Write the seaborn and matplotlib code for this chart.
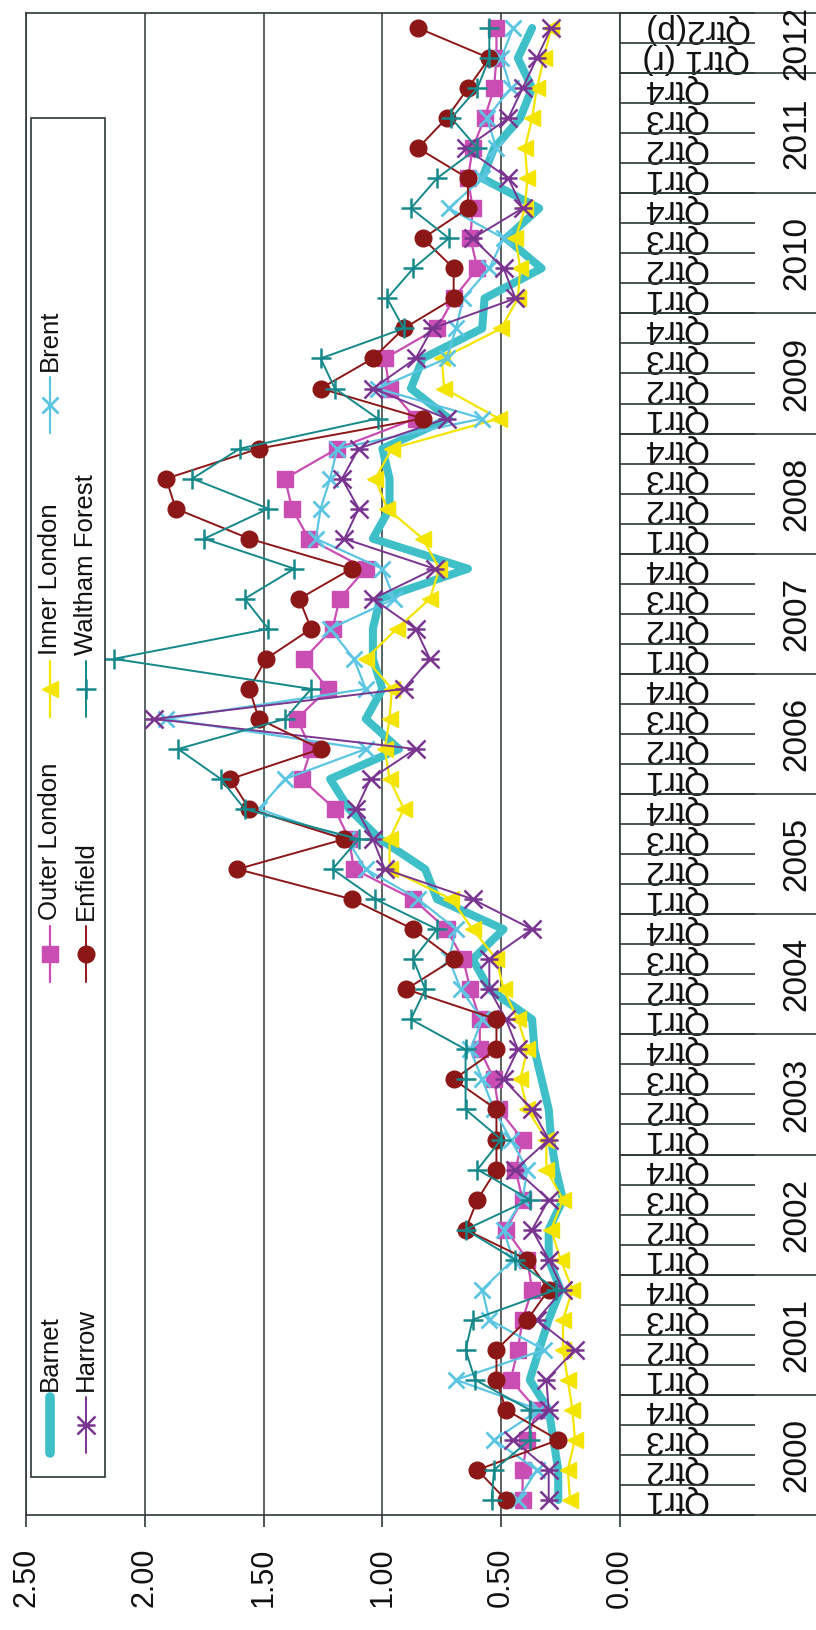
import numpy as np
import matplotlib
matplotlib.use("Agg")
import matplotlib.pyplot as plt
from matplotlib.lines import Line2D
from matplotlib.patches import Rectangle
from matplotlib.path import Path
import seaborn as sns

# ---------------------------------------------------------------- data
years = [str(y) for y in range(2000, 2013)]
quarter_labels = ["Qtr1", "Qtr2", "Qtr3", "Qtr4"] * 12 + ["Qtr1 (r)", "Qtr2(p)"]
value_ticks = [0.0, 0.5, 1.0, 1.5, 2.0, 2.5]

barnet = [0.26, 0.26, 0.28, 0.30, 0.38, 0.34, 0.30, 0.25, 0.30, 0.30,
          0.24, 0.27, 0.29, 0.30, 0.33, 0.36, 0.37, 0.55, 0.62, 0.49,
          0.77, 0.82, 1.01, 1.14, 1.22, 0.93, 1.07, 1.00, 1.04, 1.04,
          1.01, 0.64, 1.04, 0.97, 0.97, 1.00, 0.72, 0.88, 0.83, 0.58,
          0.57, 0.33, 0.48, 0.34, 0.58, 0.53, 0.42, 0.37, 0.43, 0.37]
outer_london = [0.41, 0.41, 0.39, 0.35, 0.46, 0.43, 0.41, 0.37, 0.39, 0.48,
                0.41, 0.44, 0.41, 0.51, 0.53, 0.59, 0.59, 0.63, 0.66, 0.73,
                0.87, 1.12, 1.14, 1.20, 1.34, 1.30, 1.36, 1.23, 1.33, 1.21,
                1.18, 1.07, 1.31, 1.38, 1.41, 1.19, 0.86, 0.97, 0.99, 0.77,
                0.70, 0.60, 0.63, 0.62, 0.64, 0.62, 0.57, 0.53, 0.52, 0.52]
inner_london = [0.21, 0.22, 0.19, 0.20, 0.22, 0.24, 0.24, 0.20, 0.25, 0.29,
                0.24, 0.31, 0.31, 0.39, 0.42, 0.39, 0.43, 0.49, 0.52, 0.62,
                0.71, 0.97, 0.97, 0.91, 0.97, 0.99, 0.97, 0.96, 1.07, 0.94,
                0.80, 0.76, 0.83, 0.98, 1.03, 0.96, 0.51, 0.74, 0.75, 0.50,
                0.43, 0.42, 0.44, 0.40, 0.39, 0.40, 0.37, 0.35, 0.32, 0.29]
brent = [0.43, 0.35, 0.53, 0.34, 0.69, 0.32, 0.55, 0.58, 0.45, 0.49,
         0.41, 0.39, 0.46, 0.53, 0.58, 0.63, 0.58, 0.67, 0.72, 0.69,
         0.85, 1.07, 1.15, 1.52, 1.41, 1.07, 1.91, 1.07, 1.12, 1.22,
         0.95, 1.00, 1.28, 1.26, 1.22, 1.19, 0.58, 1.02, 0.73, 0.69,
         0.66, 0.55, 0.49, 0.72, 0.58, 0.52, 0.56, 0.46, 0.50, 0.45]
harrow = [0.30, 0.30, 0.45, 0.30, 0.31, 0.19, 0.35, 0.24, 0.30, 0.37,
          0.30, 0.44, 0.30, 0.37, 0.49, 0.43, 0.48, 0.55, 0.55, 0.37,
          0.62, 0.99, 1.04, 1.11, 1.05, 0.86, 1.96, 0.91, 0.80, 0.86,
          1.04, 0.78, 1.16, 1.10, 1.17, 1.10, 0.73, 1.04, 0.86, 0.79,
          0.44, 0.49, 0.62, 0.41, 0.47, 0.65, 0.47, 0.41, 0.35, 0.29]
enfield = [0.48, 0.60, 0.26, 0.48, 0.52, 0.52, 0.39, 0.30, 0.39, 0.65,
           0.60, 0.52, 0.52, 0.52, 0.70, 0.52, 0.52, 0.90, 0.70, 0.87,
           1.13, 1.61, 1.16, 1.56, 1.64, 1.26, 1.52, 1.56, 1.49, 1.30,
           1.35, 1.13, 1.56, 1.87, 1.91, 1.52, 0.83, 1.26, 1.04, 0.91,
           0.70, 0.70, 0.83, 0.64, 0.64, 0.85, 0.73, 0.64, 0.55, 0.85]
waltham_forest = [0.54, 0.53, 0.38, 0.38, 0.61, 0.65, 0.62, 0.27, 0.44, 0.65,
                  0.38, 0.60, 0.50, 0.65, 0.65, 0.65, 0.88, 0.82, 0.87, 0.77,
                  1.03, 1.21, 1.10, 1.58, 1.68, 1.86, 1.41, 1.30, 2.13, 1.48,
                  1.58, 1.37, 1.75, 1.48, 1.80, 1.60, 1.02, 1.20, 1.26, 0.91,
                  0.98, 0.87, 0.72, 0.88, 0.77, 0.60, 0.71, 0.60, 0.55, 0.55]

series_names = ["Barnet", "Outer London", "Inner London", "Brent",
                "Harrow", "Enfield", "Waltham Forest"]
series_values = [barnet, outer_london, inner_london, brent,
                 harrow, enfield, waltham_forest]

# ---------------------------------------------------------------- styles
INK = "#2e3838"

# asterisk marker: a cross with a bar through it
star_path = Path(
    [(-1, -1), (1, 1), (-1, 1), (1, -1), (-1, 0), (1, 0)],
    [Path.MOVETO, Path.LINETO, Path.MOVETO, Path.LINETO, Path.MOVETO, Path.LINETO],
)

styles = {
    "Barnet": dict(color="#3fc0c8", lw=5.8, marker=None, ms=0, mew=0),
    "Outer London": dict(color="#c94db3", lw=1.6, marker="s", ms=11, mew=1),
    "Inner London": dict(color="#f3e500", lw=1.6, marker="<", ms=12, mew=1),
    "Brent": dict(color="#5cc6e2", lw=1.6, marker="x", ms=12, mew=2.0),
    "Harrow": dict(color="#7a3590", lw=1.4, marker=star_path, ms=13, mew=1.8),
    "Enfield": dict(color="#8c1717", lw=1.4, marker="o", ms=12, mew=1),
    "Waltham Forest": dict(color="#15888a", lw=1.4, marker="+", ms=14, mew=1.8),
}

sns.set_style("white")
plt.rcParams["font.family"] = ["Liberation Sans", "DejaVu Sans"]

W, H = 816, 1630
fig = plt.figure(figsize=(W / 100, H / 100), dpi=100)
fig.patch.set_facecolor("white")

# plot area: value axis runs right-to-left, time runs bottom-to-top
left_px, right_px, top_px, bottom_px = 26, 620, 13, 1515
ax = fig.add_axes([left_px / W, 1 - bottom_px / H,
                   (right_px - left_px) / W, (bottom_px - top_px) / H])
ax.set_facecolor("white")

quarter_idx = np.arange(len(quarter_labels))

for z, (name, vals) in enumerate(zip(series_names, series_values)):
    st = styles[name]
    kw = dict(color=st["color"], linewidth=st["lw"], zorder=3 + z,
              solid_joinstyle="round", solid_capstyle="round")
    if st["marker"] is not None:
        kw.update(marker=st["marker"], markersize=st["ms"],
                  markeredgewidth=st["mew"], markeredgecolor=st["color"],
                  markerfacecolor=st["color"])
    sns.lineplot(x=vals, y=quarter_idx, ax=ax, orient="y", sort=False,
                 estimator=None, **kw)

# value axis (bottom)
ax.set_xlim(2.5, 0)
ax.set_xticks(value_ticks)
ax.set_xticklabels([f"{v:.2f}" for v in value_ticks], rotation=90,
                   fontsize=22, color="#111111")
ax.tick_params(axis="x", direction="out", length=8.6, width=1.2,
               color=INK, pad=15, bottom=True)
ax.grid(axis="x", color=INK, linewidth=1.1)
ax.grid(axis="y", visible=False)
ax.set_axisbelow(True)

# category axis (right)
ax.set_ylim(-0.5, len(quarter_labels) - 0.5)
ax.yaxis.tick_right()
ax.set_yticks(quarter_idx)
ax.set_yticklabels(quarter_labels, rotation=180, fontsize=24, color="#111111")
for lab in ax.get_yticklabels():
    lab.set_verticalalignment("center")
    lab.set_horizontalalignment("left")
ax.tick_params(axis="y", which="major", length=0, pad=16)
ax.set_yticks(np.arange(-0.5, len(quarter_labels), 1.0), minor=True)
ax.tick_params(axis="y", which="minor", length=97, width=1.2, color=INK,
               direction="out", right=True, left=False)

for sp in ax.spines.values():
    sp.set_color(INK)
    sp.set_linewidth(1.2)

# year separators and labels beside the quarter labels
span = right_px - left_px
year_bounds = list(np.arange(-0.5, len(quarter_labels), 4.0)) + [len(quarter_labels) - 0.5]
for b in year_bounds:
    ax.add_artist(Line2D([1, 1 + (W - right_px) / span], [b, b],
                         transform=ax.get_yaxis_transform(), clip_on=False,
                         color=INK, lw=1.2))
for k, yr in enumerate(years):
    first = 4 * k
    last = min(4 * k + 3, len(quarter_labels) - 1)
    ax.text(1 + 177 / span, (first + last) / 2, yr,
            transform=ax.get_yaxis_transform(), rotation=90,
            ha="center", va="center", fontsize=24, color="#111111")

# legend, laid out along the rotated chart
fx = lambda x: x / W
fy = lambda y: 1 - y / H
fig.add_artist(Rectangle((fx(31), fy(1477)), (105 - 31) / W, (1477 - 118) / H,
                         transform=fig.transFigure, facecolor="white",
                         edgecolor=INK, lw=1.2, zorder=20))
col_start = [1453, 982, 717, 433]
row_x = [50, 86]
legend_layout = [("Barnet", 0, 0), ("Harrow", 0, 1), ("Outer London", 1, 0),
                 ("Enfield", 1, 1), ("Inner London", 2, 0),
                 ("Waltham Forest", 2, 1), ("Brent", 3, 0)]
for name, col, row in legend_layout:
    st = styles[name]
    x = row_x[row]
    y0 = col_start[col]
    ln = Line2D([fx(x)] * 3, [fy(y0), fy(y0 - 28), fy(y0 - 56)],
                transform=fig.transFigure, color=st["color"],
                lw=st["lw"] * (1.0 if name != "Barnet" else 1.2),
                solid_capstyle="round", zorder=21)
    if st["marker"] is not None:
        ln.set_marker(st["marker"])
        ln.set_markevery([1])
        ln.set_markersize(st["ms"])
        ln.set_markeredgewidth(st["mew"])
        ln.set_markeredgecolor(st["color"])
        ln.set_markerfacecolor(st["color"])
    fig.add_artist(ln)
    fig.text(fx(x), fy(y0 - 62), name, rotation=90, ha="center", va="bottom",
             fontsize=18.5, color="#111111", zorder=22)

fig.savefig("out.png", dpi=100, facecolor="white")
